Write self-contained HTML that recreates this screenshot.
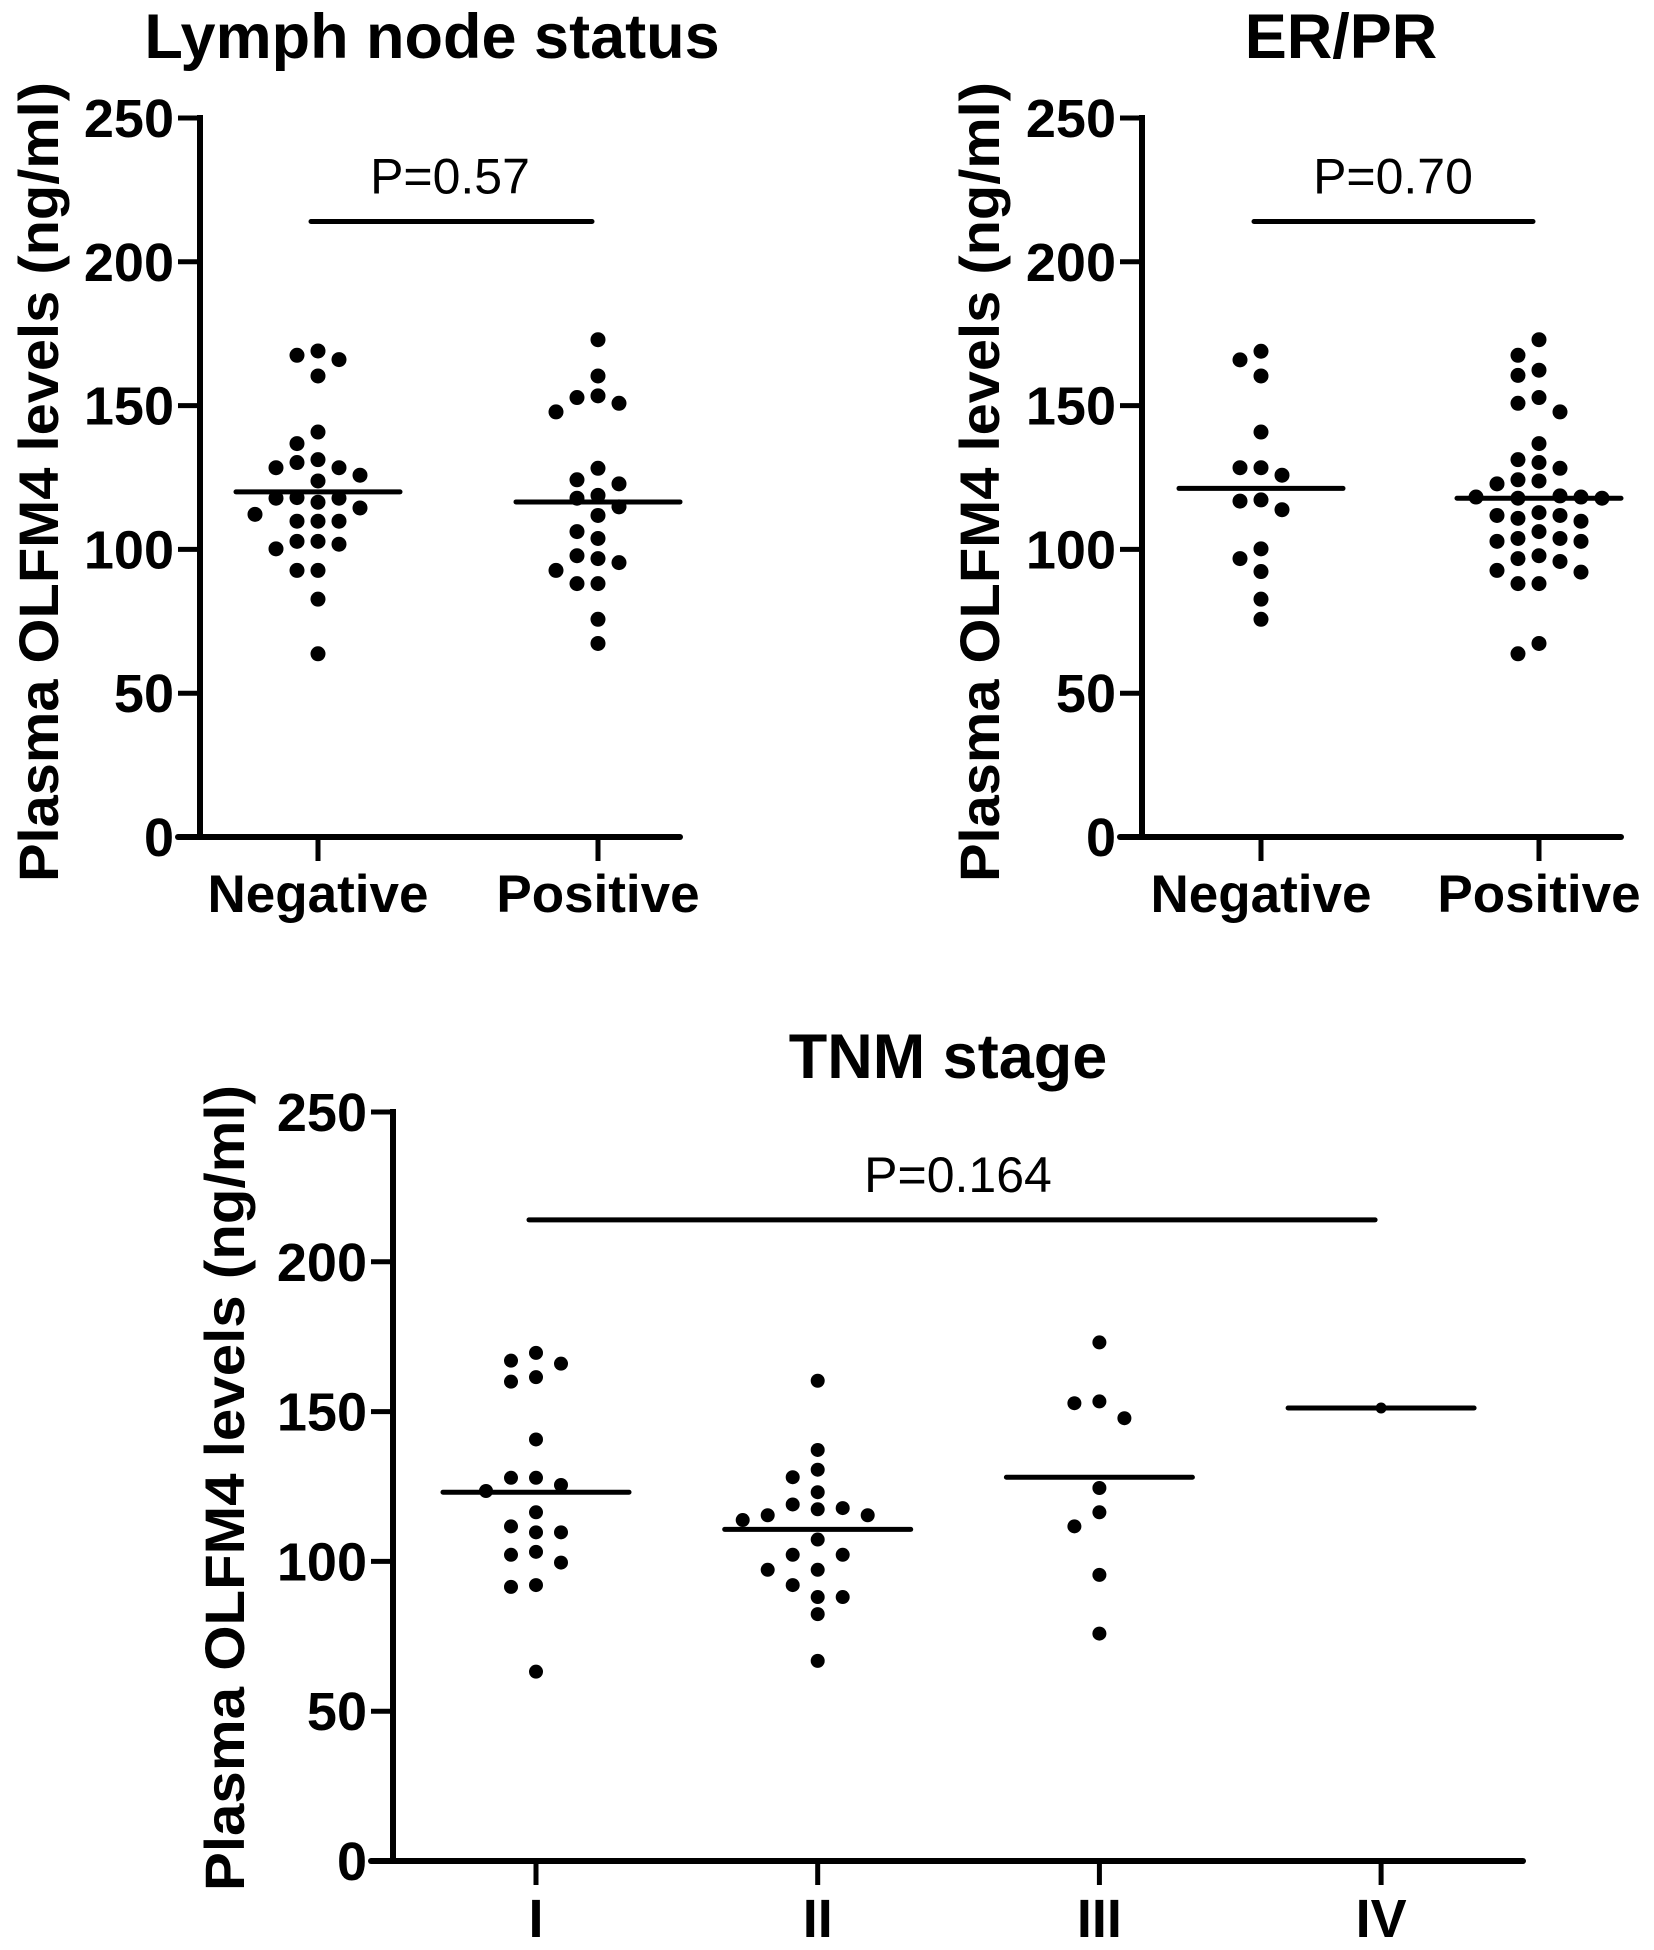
<!DOCTYPE html>
<html><head><meta charset="utf-8"><style>
html,body{margin:0;padding:0;background:#fff;}
svg{display:block;font-family:"Liberation Sans",Arial,sans-serif;}
</style></head><body>
<svg id="fig" width="1654" height="1950" viewBox="0 0 1654 1950"></svg>
<script>
// ---- data ----
const yTicks = [0, 50, 100, 150, 200, 250];
const lnCategories = ["Negative", "Positive"];
const lnNegative = [167.5,169,166,160.3,140.8,136.8,131.2,128.4,128.4,130.2,125.8,123.8,114.4,117.8,117.8,118,112.2,116.4,109.8,109.8,109.8,102.8,101.8,100.2,102.8,92.7,92.7,82.7,63.7];
const lnPositive = [172.9,160.3,153.4,150.8,152.8,147.8,128.2,122.8,124.2,118.8,117.8,114.8,111.8,106.2,103.8,97.8,96.8,95.4,92.7,88.1,88.1,75.7,67.3];
const lnMedians = [120, 116.5];
const lnP = "P=0.57";
const erCategories = ["Negative", "Positive"];
const erNegative = [168.9,165.9,160.3,140.8,128.4,128.4,125.8,116.8,117.2,113.8,96.8,100.2,92.3,82.7,75.7];
const erPositive = [172.9,167.5,160.5,162.3,150.8,152.8,147.8,136.8,131.2,130.2,128.2,123.8,122.8,124.2,118.2,117.8,118.2,117.8,118.6,112.8,111.8,109.8,110.8,111.8,103.8,102.8,106.2,102.8,103.8,96.8,97.8,95.8,92.7,92.1,88.1,88.1,67.3,63.7];
const erMedians = [121.2, 117.8];
const erP = "P=0.70";
const tnmCategories = ["I", "II", "III", "IV"];
const tnmI = [167,169.6,166,161.5,160,140.7,127.9,127.9,125.5,123.5,116.4,111.7,109.7,109.7,103.2,102.2,99.6,92.1,91.5,63.2];
const tnmII = [160.3,137.2,130.6,128.1,123.1,117.8,115.4,113.8,115.4,117.4,119,107.3,102.2,102.2,97.2,97.2,92.1,88.1,88.1,82.4,66.8];
const tnmIII = [173.1,153.4,152.8,147.8,124.5,116.4,111.7,95.5,75.9];
const tnmIV = [151.2];
const tnmMedians = [123.1, 110.7, 128.1, 151.2];
const tnmP = "P=0.164";

const NS = "http://www.w3.org/2000/svg";
const fig = document.getElementById('fig');
function mk(tag, attrs, parent, text){
  const e = document.createElementNS(NS, tag);
  for (const k in attrs) e.setAttribute(k, attrs[k]);
  if (text !== undefined) e.textContent = text;
  (parent || fig).appendChild(e);
  return e;
}

function swarm(vals, cx, yFn, spacing, r){
  const order = vals.map((v,i)=>i).sort((a,b)=>vals[b]-vals[a]);
  const placed = [];
  const xs = new Array(vals.length);
  const slots = [0,-1,1,-2,2,-3,3,-4,4,-5,5];
  for (const i of order){
    const y = yFn(vals[i]);
    for (const s of slots){
      const x = cx + s*spacing;
      let ok = true;
      for (const p of placed){ if (Math.hypot(p[0]-x,p[1]-y) < 2*r+3){ ok=false; break; } }
      if (ok){ xs[i]=x; placed.push([x,y]); break; }
    }
  }
  return xs;
}

function panel(cfg){
  const g = mk('g', {});
  
  
  const y = v => cfg.y0 - v*cfg.k;
  const x = i => cfg.cx0 + i*cfg.dx;
  const t = mk('text', {x:cfg.titleX, y:cfg.titleY, 'text-anchor':'middle', 'font-size':cfg.titleSize, 'font-weight':'bold'}, g, cfg.title);
  
  
  const ya = mk('line', {x1:cfg.ax, y1:y(250)-3, x2:cfg.ax, y2:cfg.y0+3, stroke:'#000','stroke-width':6}, g);
  
  
  const xa = mk('line', {x1:cfg.ax-22, y1:cfg.y0, x2:cfg.axEnd, y2:cfg.y0, stroke:'#000','stroke-width':6,'stroke-linecap':'round'}, g);
  
  
  yTicks.forEach(v=>{
    mk('line', {x1:cfg.ax-22, y1:y(v), x2:cfg.ax, y2:y(v), stroke:'#000','stroke-width':5}, g);
    const tl = mk('text', {x:cfg.ax-26, y:y(v)+19, 'text-anchor':'end','font-size':54,'font-weight':'bold'}, g, String(v));
    
    
  });
  const yt = mk('text', {x:0, y:0, transform:`translate(${cfg.ytX},${cfg.ytY}) rotate(-90)`, 'text-anchor':'middle','font-size':56,'font-weight':'bold', textLength:cfg.ytLen, lengthAdjust:'spacingAndGlyphs'}, g, 'Plasma OLFM4 levels (ng/ml)');
  
  
  cfg.cats.forEach((c,i)=>{
    mk('line', {x1:x(i), y1:cfg.y0, x2:x(i), y2:cfg.y0+24, stroke:'#000','stroke-width':5}, g);
    const xl = mk('text', {x:x(i), y:cfg.xlY, 'text-anchor':'middle','font-size':cfg.xlSize,'font-weight':'bold'}, g, c);
    
    
  });
  cfg.series.forEach((vals,i)=>{
    const xs = swarm(vals, x(i), y, cfg.sp, cfg.r);
    vals.forEach((v,j)=>{
      const c = mk('circle', {cx:xs[j], cy:y(v), r:(vals.length===1?5.5:cfg.r), fill:'#000'}, g);
      
      
    });
    const m = mk('line', {x1:x(i)-cfg.mw, y1:y(cfg.medians[i]), x2:x(i)+cfg.mw, y2:y(cfg.medians[i]), stroke:'#000','stroke-width':5,'stroke-linecap':'round'}, g);
    
    
  });
  const pl = mk('line', {x1:x(0)-7, y1:y(214), x2:x(cfg.cats.length-1)-6, y2:y(214), stroke:'#000','stroke-width':5,'stroke-linecap':'round'}, g);
  
  
  const pt = mk('text', {x:cfg.pX, y:y(214)-28, 'text-anchor':'middle','font-size':50}, g, cfg.p);
  
  
}

panel({name:'lymph-node-panel', title:'Lymph node status', titleX:432, titleY:58, titleSize:63,
  ax:200, axEnd:680, y0:837, k:2.876, cx0:318, dx:280, cats:lnCategories,
  series:[lnNegative, lnPositive], medians:lnMedians, p:lnP, pX:450,
  ytX:58, ytY:482, ytLen:800, xlY:912, xlSize:53, sp:21, r:7.5, mw:82});
panel({name:'er-pr-panel', title:'ER/PR', titleX:1341, titleY:58, titleSize:63,
  ax:1142, axEnd:1621, y0:837, k:2.876, cx0:1261, dx:278, cats:erCategories,
  series:[erNegative, erPositive], medians:erMedians, p:erP, pX:1393,
  ytX:999, ytY:482, ytLen:800, xlY:912, xlSize:53, sp:21, r:7.5, mw:82});
panel({name:'tnm-stage-panel', title:'TNM stage', titleX:948, titleY:1078, titleSize:63,
  ax:393, axEnd:1523, y0:1861, k:2.996, cx0:536, dx:281.7, cats:tnmCategories,
  series:[tnmI, tnmII, tnmIII, tnmIV], medians:tnmMedians, p:tnmP, pX:958,
  ytX:244, ytY:1488, ytLen:806, xlY:1937, xlSize:54, sp:25, r:7, mw:93});
</script>
</body></html>
